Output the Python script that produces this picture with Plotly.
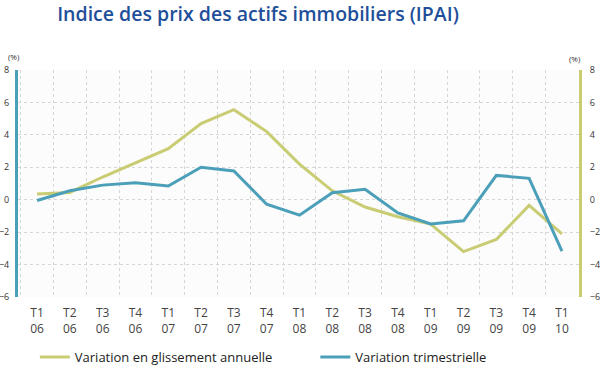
import plotly.graph_objects as go

quarters = ["T1", "T2", "T3", "T4", "T1", "T2", "T3", "T4", "T1", "T2", "T3", "T4", "T1", "T2", "T3", "T4", "T1"]
years = ["06", "06", "06", "06", "07", "07", "07", "07", "08", "08", "08", "08", "09", "09", "09", "09", "10"]
categories = [f"{q}<br>{y}" for q, y in zip(quarters, years)]

annual = [0.35, 0.45, 1.4, 2.25, 3.15, 4.7, 5.55, 4.2, 2.2, 0.55, -0.45, -1.05, -1.5, -3.2, -2.45, -0.35, -2.1]
quarterly = [-0.05, 0.55, 0.9, 1.05, 0.85, 2.0, 1.77, -0.28, -0.95, 0.43, 0.65, -0.82, -1.5, -1.3, 1.5, 1.32, -3.17]

yellow = "#c9cc72"
blue = "#4b9fb9"

fig = go.Figure()
fig.add_trace(go.Scatter(x=categories, y=annual, mode="lines", name="Variation en glissement annuelle",
                         line=dict(color=yellow, width=3), legend="legend"))
fig.add_trace(go.Scatter(x=categories, y=quarterly, mode="lines", name="Variation trimestrielle",
                         line=dict(color=blue, width=3), yaxis="y2", legend="legend2"))

tickfont = dict(family="Open Sans", size=9, color="#333333")
legfont = dict(family="Open Sans", size=13, color="#222222")
fig.update_layout(
    width=600, height=372,
    margin=dict(l=18, r=21, t=70, b=75, autoexpand=False),
    paper_bgcolor="white", plot_bgcolor="#fcfcfc",
    title=dict(text="Indice des prix des actifs immobiliers (IPAI)", x=0.43, xanchor="center", y=0.962, yanchor="middle",
               font=dict(family="Open Sans", size=19.5, color="#1f4f9a", weight=600)),
    xaxis=dict(type="category", tickson="boundaries", range=[-0.58, 16.52],
               showgrid=True, gridcolor="#d6d6d6", griddash="dot", gridwidth=1,
               ticks="", tickfont=dict(family="Open Sans", size=12, color="#444444"), ticklabelstandoff=7,
               showline=False, zeroline=False, automargin=False),
    yaxis=dict(range=[-6, 8], dtick=2, showgrid=True, gridcolor="#d6d6d6", griddash="dot",
               zeroline=False, showline=True, linecolor=blue, linewidth=3, automargin=False,
               tickfont=tickfont, ticks="", ticklabelstandoff=4),
    yaxis2=dict(range=[-6, 8], dtick=2, overlaying="y", side="right", showgrid=False,
                zeroline=False, showline=True, linecolor=yellow, linewidth=3, automargin=False,
                tickfont=tickfont, ticks="", ticklabelstandoff=6),
    legend=dict(orientation="h", x=0.03, xanchor="left", y=-0.265, yanchor="middle",
                font=legfont, bgcolor="rgba(0,0,0,0)"),
    legend2=dict(orientation="h", x=0.53, xanchor="left", y=-0.265, yanchor="middle",
                 font=legfont, bgcolor="rgba(0,0,0,0)"),
    showlegend=True,
)
fig.add_annotation(text="(%)", xref="paper", yref="paper", x=-0.007, y=1.06, showarrow=False,
                   font=dict(family="Open Sans", size=8, color="#333333"), xanchor="center", yanchor="middle")
fig.add_annotation(text="(%)", xref="paper", yref="paper", x=0.993, y=1.05, showarrow=False,
                   font=dict(family="Open Sans", size=8, color="#333333"), xanchor="center", yanchor="middle")

fig.write_html("out.html", config={"displayModeBar": False},
               post_script="document.body.style.margin='0';")
